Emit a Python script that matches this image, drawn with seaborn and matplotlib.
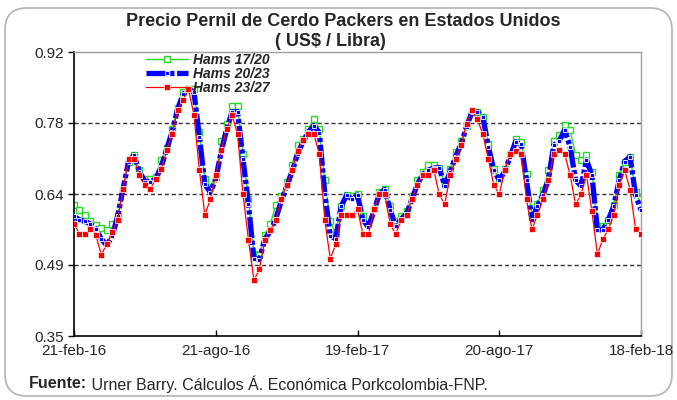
import matplotlib
matplotlib.use("Agg")
import matplotlib.pyplot as plt
import matplotlib.transforms as mtransforms
from matplotlib.patches import FancyBboxPatch
import pandas as pd
import seaborn as sns

# weekly prices, 21-feb-16 .. 18-feb-18 (US$ / lb)
fechas = pd.date_range("2016-02-21", "2018-02-18", freq="7D")

hams_17_20 = [
    0.613, 0.603, 0.593, 0.580, 0.573, 0.566, 0.563, 0.575, 0.590, 0.645, 0.700,
    0.713, 0.683, 0.665, 0.665, 0.670, 0.703, 0.728, 0.765, 0.808, 0.840,
    0.845, 0.845, 0.760, 0.665, 0.650, 0.670, 0.741, 0.775, 0.812, 0.812,
    0.715, 0.625, 0.515, 0.513, 0.553, 0.574, 0.613, 0.630, 0.660, 0.693, 0.733,
    0.745, 0.765, 0.785, 0.765, 0.663, 0.580, 0.555, 0.610, 0.633, 0.630,
    0.635, 0.590, 0.575, 0.605, 0.640, 0.645, 0.610, 0.580, 0.590, 0.600, 0.630,
    0.663, 0.680, 0.693, 0.693, 0.688, 0.655, 0.685, 0.720, 0.741, 0.772, 0.800,
    0.800, 0.790, 0.735, 0.685, 0.665, 0.685, 0.715, 0.745, 0.740, 0.675, 0.590,
    0.615, 0.644, 0.683, 0.741, 0.753, 0.773, 0.763, 0.713, 0.703, 0.713,
    0.680, 0.570, 0.570, 0.583, 0.613, 0.673, 0.700, 0.710, 0.640, 0.624,
]
hams_20_23 = [
    0.590, 0.583, 0.580, 0.575, 0.565, 0.545, 0.532, 0.550, 0.590, 0.645, 0.700,
    0.713, 0.680, 0.660, 0.660, 0.665, 0.690, 0.725, 0.760, 0.805, 0.835,
    0.845, 0.840, 0.750, 0.655, 0.638, 0.665, 0.720, 0.765, 0.800, 0.800,
    0.705, 0.615, 0.505, 0.503, 0.545, 0.560, 0.585, 0.620, 0.650, 0.680, 0.715,
    0.740, 0.760, 0.772, 0.758, 0.635, 0.551, 0.545, 0.610, 0.633, 0.625,
    0.633, 0.583, 0.569, 0.600, 0.635, 0.644, 0.603, 0.570, 0.585, 0.595, 0.625,
    0.655, 0.675, 0.683, 0.687, 0.688, 0.651, 0.680, 0.710, 0.735, 0.770, 0.800,
    0.800, 0.790, 0.730, 0.683, 0.663, 0.680, 0.710, 0.740, 0.735, 0.663, 0.583,
    0.611, 0.633, 0.663, 0.733, 0.742, 0.763, 0.730, 0.663, 0.651, 0.703,
    0.673, 0.563, 0.563, 0.583, 0.610, 0.663, 0.700, 0.710, 0.633, 0.603,
]
hams_23_27 = [
    0.575, 0.555, 0.555, 0.565, 0.553, 0.513, 0.534, 0.558, 0.583, 0.645, 0.705,
    0.705, 0.673, 0.653, 0.645, 0.665, 0.685, 0.723, 0.755, 0.804, 0.824,
    0.845, 0.794, 0.683, 0.593, 0.624, 0.673, 0.723, 0.765, 0.794, 0.755,
    0.634, 0.543, 0.462, 0.484, 0.543, 0.563, 0.583, 0.624, 0.653, 0.683, 0.722,
    0.743, 0.755, 0.755, 0.715, 0.583, 0.505, 0.534, 0.593, 0.593, 0.593,
    0.604, 0.554, 0.554, 0.604, 0.634, 0.634, 0.575, 0.554, 0.583, 0.593, 0.624,
    0.653, 0.673, 0.673, 0.683, 0.634, 0.614, 0.673, 0.705, 0.733, 0.775, 0.804,
    0.785, 0.755, 0.705, 0.653, 0.634, 0.683, 0.715, 0.722, 0.715, 0.624, 0.564,
    0.593, 0.624, 0.663, 0.715, 0.723, 0.715, 0.673, 0.614, 0.634, 0.673,
    0.600, 0.514, 0.544, 0.564, 0.593, 0.653, 0.683, 0.644, 0.564, 0.554,
]

y_ticks = [0.35, 0.4925, 0.635, 0.7775, 0.92]
y_labels = ["0.35", "0.49", "0.64", "0.78", "0.92"]
x_ticks = pd.to_datetime(["2016-02-21", "2016-08-21", "2017-02-19", "2017-08-20", "2018-02-18"])
x_labels = ["21-feb-16", "21-ago-16", "19-feb-17", "20-ago-17", "18-feb-18"]

sns.set_theme(style="white")
plt.rcParams["font.family"] = ["Liberation Sans", "DejaVu Sans"]

fig = plt.figure(figsize=(6.77, 4.0), dpi=100)
ax = fig.add_axes([74 / 677, 64 / 400, 567 / 677, 284 / 400])

# outer rounded frame
frame = FancyBboxPatch((5, 4), 667, 388, boxstyle="round,pad=0,rounding_size=22",
                       transform=mtransforms.IdentityTransform(),
                       facecolor="white", edgecolor="#B8B8B8", lw=1.3, zorder=-10)
fig.patches.append(frame)

sns.lineplot(x=fechas, y=hams_17_20, ax=ax, color="#22DD22", lw=1.0,
             marker="s", markersize=4, markerfacecolor="white",
             markeredgecolor="#22DD22", markeredgewidth=1.0,
             label="Hams 17/20", zorder=2)
sns.lineplot(x=fechas, y=hams_20_23, ax=ax, color="#0000FF", lw=3.8,
             linestyle=(0, (4, 0.5, 0.8, 0.5)),
             marker="s", markersize=3, markerfacecolor="#0000FF",
             markeredgecolor="white", markeredgewidth=0.6,
             label="Hams 20/23", zorder=3)
sns.lineplot(x=fechas, y=hams_23_27, ax=ax, color="#FF0000", lw=0.9,
             marker="s", markersize=4.2, markerfacecolor="#FF0000",
             markeredgecolor="white", markeredgewidth=0.5,
             label="Hams 23/27", zorder=4)

ax.set_xlim(fechas[0], fechas[-1])
ax.set_ylim(0.35, 0.92)
ax.set_yticks(y_ticks)
ax.set_yticklabels(y_labels)
ax.set_xticks(x_ticks)
ax.set_xticklabels(x_labels)
ax.set_xlabel("")
ax.set_ylabel("")
ax.tick_params(axis="y", direction="out", length=4, width=1, color="black",
               labelsize=11, pad=3, left=True)
ax.tick_params(axis="x", direction="in", length=4, width=1, color="black",
               labelsize=11, pad=6, bottom=True)

for y in y_ticks[1:4]:
    ax.axhline(y, color="#333333", lw=1.0, ls=(0, (3, 2)), zorder=1)

for side in ["left", "bottom"]:
    ax.spines[side].set_color("black")
    ax.spines[side].set_linewidth(1.2)
for side in ["top", "right"]:
    ax.spines[side].set_color("#A0A0A0")
    ax.spines[side].set_linewidth(1.0)

leg = ax.legend(loc="upper left", bbox_to_anchor=(0.127, 0.998), frameon=False,
                handlelength=3.0, handletextpad=0.35, labelspacing=0.0,
                handleheight=0.5, borderaxespad=0, borderpad=0,
                prop={"weight": "bold", "style": "italic", "size": 10})

fig.text(343 / 677, 1 - 22 / 400, "Precio Pernil de Cerdo Packers en Estados Unidos",
         ha="center", va="center", fontsize=13, fontweight="bold")
fig.text(330 / 677, 1 - 41 / 400, "( US$ / Libra)",
         ha="center", va="center", fontsize=13, fontweight="bold")

t1 = fig.text(29 / 677, 1 - 384 / 400, "Fuente:", ha="left", va="center",
              fontsize=11.5, fontweight="bold")
ax.annotate(" Urner Barry. Cálculos Á. Económica Porkcolombia-FNP.",
            xy=(1, 0.5), xycoords=t1, ha="left", va="center", fontsize=11.5,
            annotation_clip=False)

fig.savefig("out.png", dpi=100)
